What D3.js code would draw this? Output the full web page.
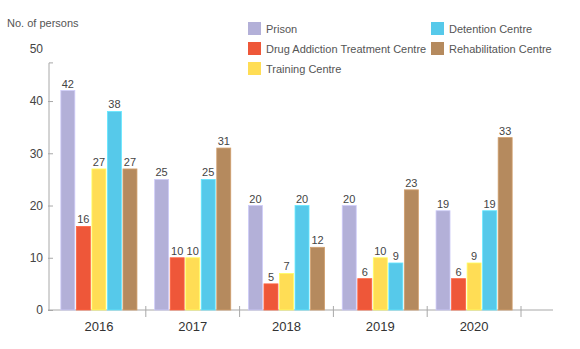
<!DOCTYPE html>
<html>
<head>
<meta charset="utf-8">
<script src="https://cdn.jsdelivr.net/npm/d3@7"></script>
<style>
  body { margin: 0; background: #fff; }
  text { font-family: "Liberation Sans", Arial, sans-serif; }
</style>
</head>
<body>
<div id="chart"></div>
<script>
(function() {
  let width = 580,
  height = 349

  // data
  let years = ['2016', '2017', '2018', '2019', '2020']
  let seriesNames = ['Prison', 'Drug Addiction Treatment Centre', 'Training Centre', 'Detention Centre', 'Rehabilitation Centre']
  let prison = [42, 25, 20, 20, 19]
  let drugAddiction = [16, 10, 5, 6, 6]
  let training = [27, 10, 7, 10, 9]
  let detention = [38, 25, 20, 9, 19]
  let rehabilitation = [27, 31, 12, 23, 33]
  let yTicks = [0, 10, 20, 30, 40, 50]

  let seriesValues = [prison, drugAddiction, training, detention, rehabilitation]
  let colors = ['#B3B0D8', '#EE5739', '#FFDD55', '#56C9EA', '#B58A5E']

  let svg = d3.select('#chart')
    .append('svg')
    .attr('width', width)
    .attr('height', height)

  let x0 = d3.scaleBand()
    .domain(years)
    .range([52, 521])

  let x1 = d3.scaleBand()
    .domain(seriesNames)
    .range([0, x0.bandwidth()])
    .paddingInner(0.1)
    .paddingOuter(0.57)

  let y = d3.scaleLinear()
    .domain([0, 50])
    .range([310, 48.8])

  let axisColor = '#A8A8A8'

  // y axis
  let yAxis = svg.append('g')
    .attr('transform', 'translate(49,0)')
    .call(d3.axisLeft(y).tickValues(yTicks).tickSize(-4).tickPadding(6))
  yAxis.select('.domain').remove()
  yAxis.selectAll('.tick line').attr('stroke', axisColor)
    .attr('x1', -1)
    .filter((d) => d === 50).remove()
  yAxis.selectAll('.tick text')
    .attr('fill', '#444')
    .style('font-size', '12px')
    .style('font-family', '"Liberation Sans", Arial, sans-serif')

  let axisTopValue = 47.3
  svg.append('path')
    .attr('d', `M53,${y(axisTopValue)}H49V${y(0)}`)
    .attr('fill', 'none')
    .attr('stroke', axisColor)

  // x axis
  svg.append('line')
    .attr('x1', 48).attr('x2', 553)
    .attr('y1', y(0)).attr('y2', y(0))
    .attr('stroke', axisColor)

  svg.selectAll('.xtick')
    .data(years)
    .enter()
    .append('line')
    .attr('class', 'xtick')
    .attr('x1', (d) => x0(d) + x0.bandwidth())
    .attr('x2', (d) => x0(d) + x0.bandwidth())
    .attr('y1', y(0) - 4)
    .attr('y2', y(0) + 7)
    .attr('stroke', axisColor)

  svg.selectAll('.xlabel')
    .data(years)
    .enter()
    .append('text')
    .attr('class', 'xlabel')
    .attr('x', (d) => x0(d) + x0.bandwidth() / 2)
    .attr('y', 331)
    .attr('text-anchor', 'middle')
    .attr('fill', '#333')
    .style('font-size', '13px')
    .text((d) => d)

  // bars
  let groups = svg.selectAll('.group')
    .data(years)
    .enter()
    .append('g')
    .attr('class', 'group')
    .attr('transform', (d) => `translate(${x0(d)},0)`)

  let cells = groups.selectAll('.cell')
    .data((d, i) => seriesNames.map((name, s) => ({ name: name, value: seriesValues[s][i], color: colors[s] })))
    .enter()

  cells.append('rect')
    .attr('x', (d) => x1(d.name))
    .attr('y', (d) => y(d.value))
    .attr('width', x1.bandwidth())
    .attr('height', (d) => y(0) - y(d.value))
    .attr('fill', (d) => d.color)
    .attr('stroke', (d) => d3.color(d.color).brighter(0.4))
    .attr('stroke-width', 0.8)

  cells.append('text')
    .attr('x', (d) => x1(d.name) + x1.bandwidth() / 2)
    .attr('y', (d) => y(d.value) - 3)
    .attr('text-anchor', 'middle')
    .attr('fill', '#444')
    .style('font-size', '11px')
    .text((d) => d.value)

  // title
  svg.append('text')
    .attr('x', 7)
    .attr('y', 27)
    .attr('fill', '#555')
    .style('font-size', '11px')
    .text('No. of persons')

  // legend
  let legendPos = [[248, 22], [248, 42], [248, 62], [431, 22], [431, 42]]
  let legend = svg.selectAll('.legend')
    .data(seriesNames)
    .enter()
    .append('g')
    .attr('class', 'legend')
    .attr('transform', (d, i) => `translate(${legendPos[i][0]},${legendPos[i][1]})`)

  legend.append('rect')
    .attr('width', 13)
    .attr('height', 13)
    .attr('fill', (d, i) => colors[i])

  legend.append('text')
    .attr('x', 18)
    .attr('y', 11)
    .attr('fill', '#555')
    .style('font-size', '11px')
    .text((d) => d)
})()
</script>
</body>
</html>
